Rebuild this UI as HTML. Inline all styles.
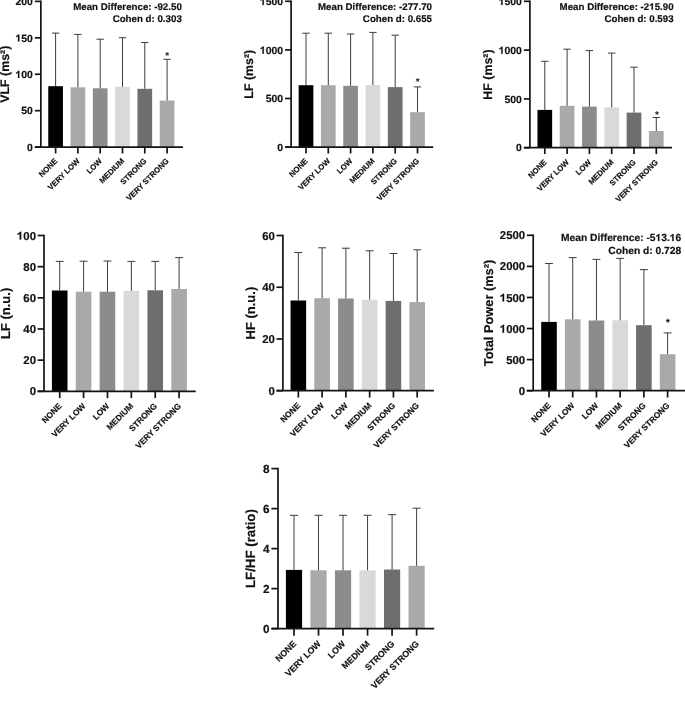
<!DOCTYPE html>
<html><head><meta charset="utf-8"><title>HRV charts</title>
<style>
html,body{margin:0;padding:0;background:#fff;width:685px;height:709px;overflow:hidden}
svg{display:block;filter:grayscale(1)}
text{font-family:"Liberation Sans", sans-serif;fill:#111;stroke:#111;stroke-width:0.18px;text-rendering:geometricPrecision}
</style></head><body>
<svg width="685" height="709" viewBox="0 0 685 709">
<rect width="685" height="709" fill="#fff"/>
<g><rect x="48.25" y="86.2" width="14.7" height="60.9" fill="#000000"/><rect x="70.55" y="87.3" width="14.7" height="59.8" fill="#a9a9a9"/><rect x="92.85" y="88.3" width="14.7" height="58.8" fill="#8c8c8c"/><rect x="115.15" y="86.8" width="14.7" height="60.3" fill="#d9d9d9"/><rect x="137.45" y="88.8" width="14.7" height="58.3" fill="#6e6e6e"/><rect x="159.75" y="100.5" width="14.7" height="46.6" fill="#a9a9a9"/><path d="M55.6 86.2V33.1M51.9 33.1H59.3" stroke="#3c3c3c" stroke-width="1" fill="none"/><path d="M77.9 87.3V34.4M74.2 34.4H81.6" stroke="#3c3c3c" stroke-width="1" fill="none"/><path d="M100.2 88.3V39.2M96.5 39.2H103.9" stroke="#3c3c3c" stroke-width="1" fill="none"/><path d="M122.5 86.8V37.7M118.8 37.7H126.2" stroke="#3c3c3c" stroke-width="1" fill="none"/><path d="M144.8 88.8V42.5M141.1 42.5H148.5" stroke="#3c3c3c" stroke-width="1" fill="none"/><path d="M167.1 100.5V59.3M163.4 59.3H170.8" stroke="#3c3c3c" stroke-width="1" fill="none"/><path d="M34.85 147.1H40.85" stroke="#141414" stroke-width="1.7"/><path d="M34.85 110.67H40.85" stroke="#141414" stroke-width="1.7"/><path d="M34.85 74.25H40.85" stroke="#141414" stroke-width="1.7"/><path d="M34.85 37.83H40.85" stroke="#141414" stroke-width="1.7"/><path d="M34.85 1.4H40.85" stroke="#141414" stroke-width="1.7"/><path d="M40.85 0.55V147.1" stroke="#141414" stroke-width="1.7"/><path d="M34.85 147.1H183" stroke="#141414" stroke-width="1.7"/><path d="M55.6 147.1V153.5" stroke="#141414" stroke-width="1.7"/><path d="M77.9 147.1V153.5" stroke="#141414" stroke-width="1.7"/><path d="M100.2 147.1V153.5" stroke="#141414" stroke-width="1.7"/><path d="M122.5 147.1V153.5" stroke="#141414" stroke-width="1.7"/><path d="M144.8 147.1V153.5" stroke="#141414" stroke-width="1.7"/><path d="M167.1 147.1V153.5" stroke="#141414" stroke-width="1.7"/><text x="32.85" y="150.84" font-size="10.4" text-anchor="end" font-weight="bold">0</text><text x="32.85" y="114.42" font-size="10.4" text-anchor="end" font-weight="bold">50</text><text x="15.5" y="77.99" font-size="10.4" font-weight="bold"> 00</text><path d="M763 0H482V1048C386 958 264 886 119 840V1090C200 1117 286 1164 378 1236C468 1307 530 1365 562 1409H763Z" transform="translate(15.5 77.99) scale(0.005078 -0.005078)" fill="#111" stroke="#111" stroke-width="35.4"/><text x="15.5" y="41.57" font-size="10.4" font-weight="bold"> 50</text><path d="M763 0H482V1048C386 958 264 886 119 840V1090C200 1117 286 1164 378 1236C468 1307 530 1365 562 1409H763Z" transform="translate(15.5 41.57) scale(0.005078 -0.005078)" fill="#111" stroke="#111" stroke-width="35.4"/><text x="32.85" y="5.14" font-size="10.4" text-anchor="end" font-weight="bold">200</text><text transform="translate(57.9 161.5) rotate(-45)" font-size="7.8" text-anchor="end" font-weight="bold">NONE</text><text transform="translate(80.2 161.5) rotate(-45)" font-size="7.8" text-anchor="end" font-weight="bold">VERY LOW</text><text transform="translate(102.5 161.5) rotate(-45)" font-size="7.8" text-anchor="end" font-weight="bold">LOW</text><text transform="translate(124.8 161.5) rotate(-45)" font-size="7.8" text-anchor="end" font-weight="bold">MEDIUM</text><text transform="translate(147.1 161.5) rotate(-45)" font-size="7.8" text-anchor="end" font-weight="bold">STRONG</text><text transform="translate(169.4 161.5) rotate(-45)" font-size="7.8" text-anchor="end" font-weight="bold">VERY STRONG</text><text transform="translate(9.4 74.25) rotate(-90)" font-size="12.4" text-anchor="middle" font-weight="bold">VLF (ms²)</text><text x="167.1" y="58.6" font-size="10" text-anchor="middle" font-weight="bold" style="stroke:none">*</text><text x="181.8" y="9.85" font-size="9.72" text-anchor="end" font-weight="bold">Mean Difference: -92.50</text><text x="181.8" y="21.9" font-size="9.72" text-anchor="end" font-weight="bold">Cohen d: 0.303</text></g>
<g><rect x="298.65" y="85.2" width="14.7" height="61.9" fill="#000000"/><rect x="320.95" y="85.2" width="14.7" height="61.9" fill="#a9a9a9"/><rect x="343.25" y="85.8" width="14.7" height="61.3" fill="#8c8c8c"/><rect x="365.55" y="85" width="14.7" height="62.1" fill="#d9d9d9"/><rect x="387.85" y="87.1" width="14.7" height="60" fill="#6e6e6e"/><rect x="410.15" y="112.2" width="14.7" height="34.9" fill="#a9a9a9"/><path d="M306 85.2V33.2M302.3 33.2H309.7" stroke="#3c3c3c" stroke-width="1" fill="none"/><path d="M328.3 85.2V33.2M324.6 33.2H332" stroke="#3c3c3c" stroke-width="1" fill="none"/><path d="M350.6 85.8V34M346.9 34H354.3" stroke="#3c3c3c" stroke-width="1" fill="none"/><path d="M372.9 85V32.4M369.2 32.4H376.6" stroke="#3c3c3c" stroke-width="1" fill="none"/><path d="M395.2 87.1V35.2M391.5 35.2H398.9" stroke="#3c3c3c" stroke-width="1" fill="none"/><path d="M417.5 112.2V86.9M413.8 86.9H421.2" stroke="#3c3c3c" stroke-width="1" fill="none"/><path d="M285.1 147.1H291.1" stroke="#141414" stroke-width="1.7"/><path d="M285.1 98.5H291.1" stroke="#141414" stroke-width="1.7"/><path d="M285.1 49.9H291.1" stroke="#141414" stroke-width="1.7"/><path d="M285.1 1.3H291.1" stroke="#141414" stroke-width="1.7"/><path d="M291.1 0.45V147.1" stroke="#141414" stroke-width="1.7"/><path d="M285.1 147.1H433.2" stroke="#141414" stroke-width="1.7"/><path d="M306 147.1V153.5" stroke="#141414" stroke-width="1.7"/><path d="M328.3 147.1V153.5" stroke="#141414" stroke-width="1.7"/><path d="M350.6 147.1V153.5" stroke="#141414" stroke-width="1.7"/><path d="M372.9 147.1V153.5" stroke="#141414" stroke-width="1.7"/><path d="M395.2 147.1V153.5" stroke="#141414" stroke-width="1.7"/><path d="M417.5 147.1V153.5" stroke="#141414" stroke-width="1.7"/><text x="283.1" y="150.84" font-size="10.4" text-anchor="end" font-weight="bold">0</text><text x="283.1" y="102.24" font-size="10.4" text-anchor="end" font-weight="bold">500</text><text x="259.96" y="53.64" font-size="10.4" font-weight="bold"> 000</text><path d="M763 0H482V1048C386 958 264 886 119 840V1090C200 1117 286 1164 378 1236C468 1307 530 1365 562 1409H763Z" transform="translate(259.96 53.64) scale(0.005078 -0.005078)" fill="#111" stroke="#111" stroke-width="35.4"/><text x="259.96" y="5.04" font-size="10.4" font-weight="bold"> 500</text><path d="M763 0H482V1048C386 958 264 886 119 840V1090C200 1117 286 1164 378 1236C468 1307 530 1365 562 1409H763Z" transform="translate(259.96 5.04) scale(0.005078 -0.005078)" fill="#111" stroke="#111" stroke-width="35.4"/><text transform="translate(308.3 161.5) rotate(-45)" font-size="7.8" text-anchor="end" font-weight="bold">NONE</text><text transform="translate(330.6 161.5) rotate(-45)" font-size="7.8" text-anchor="end" font-weight="bold">VERY LOW</text><text transform="translate(352.9 161.5) rotate(-45)" font-size="7.8" text-anchor="end" font-weight="bold">LOW</text><text transform="translate(375.2 161.5) rotate(-45)" font-size="7.8" text-anchor="end" font-weight="bold">MEDIUM</text><text transform="translate(397.5 161.5) rotate(-45)" font-size="7.8" text-anchor="end" font-weight="bold">STRONG</text><text transform="translate(419.8 161.5) rotate(-45)" font-size="7.8" text-anchor="end" font-weight="bold">VERY STRONG</text><text transform="translate(252.8 74.2) rotate(-90)" font-size="12.4" text-anchor="middle" font-weight="bold">LF (ms²)</text><text x="417.7" y="85.2" font-size="10" text-anchor="middle" font-weight="bold" style="stroke:none">*</text><text x="432" y="9.85" font-size="9.72" text-anchor="end" font-weight="bold">Mean Difference: -277.70</text><text x="432" y="21.9" font-size="9.72" text-anchor="end" font-weight="bold">Cohen d: 0.655</text></g>
<g><rect x="537.45" y="109.9" width="14.7" height="37.8" fill="#000000"/><rect x="559.75" y="105.8" width="14.7" height="41.9" fill="#a9a9a9"/><rect x="582.05" y="106.6" width="14.7" height="41.1" fill="#8c8c8c"/><rect x="604.35" y="107.4" width="14.7" height="40.3" fill="#d9d9d9"/><rect x="626.65" y="112.6" width="14.7" height="35.1" fill="#6e6e6e"/><rect x="648.95" y="131" width="14.7" height="16.7" fill="#a9a9a9"/><path d="M544.8 109.9V61.3M541.1 61.3H548.5" stroke="#3c3c3c" stroke-width="1" fill="none"/><path d="M567.1 105.8V49.2M563.4 49.2H570.8" stroke="#3c3c3c" stroke-width="1" fill="none"/><path d="M589.4 106.6V50.6M585.7 50.6H593.1" stroke="#3c3c3c" stroke-width="1" fill="none"/><path d="M611.7 107.4V53.1M608 53.1H615.4" stroke="#3c3c3c" stroke-width="1" fill="none"/><path d="M634 112.6V67.2M630.3 67.2H637.7" stroke="#3c3c3c" stroke-width="1" fill="none"/><path d="M656.3 131V117.5M652.6 117.5H660" stroke="#3c3c3c" stroke-width="1" fill="none"/><path d="M523.9 147.7H529.9" stroke="#141414" stroke-width="1.7"/><path d="M523.9 98.9H529.9" stroke="#141414" stroke-width="1.7"/><path d="M523.9 50.1H529.9" stroke="#141414" stroke-width="1.7"/><path d="M523.9 1.3H529.9" stroke="#141414" stroke-width="1.7"/><path d="M529.9 0.45V147.7" stroke="#141414" stroke-width="1.7"/><path d="M523.9 147.7H672" stroke="#141414" stroke-width="1.7"/><path d="M544.8 147.7V154.1" stroke="#141414" stroke-width="1.7"/><path d="M567.1 147.7V154.1" stroke="#141414" stroke-width="1.7"/><path d="M589.4 147.7V154.1" stroke="#141414" stroke-width="1.7"/><path d="M611.7 147.7V154.1" stroke="#141414" stroke-width="1.7"/><path d="M634 147.7V154.1" stroke="#141414" stroke-width="1.7"/><path d="M656.3 147.7V154.1" stroke="#141414" stroke-width="1.7"/><text x="521.9" y="151.44" font-size="10.4" text-anchor="end" font-weight="bold">0</text><text x="521.9" y="102.64" font-size="10.4" text-anchor="end" font-weight="bold">500</text><text x="498.76" y="53.84" font-size="10.4" font-weight="bold"> 000</text><path d="M763 0H482V1048C386 958 264 886 119 840V1090C200 1117 286 1164 378 1236C468 1307 530 1365 562 1409H763Z" transform="translate(498.76 53.84) scale(0.005078 -0.005078)" fill="#111" stroke="#111" stroke-width="35.4"/><text x="498.76" y="5.04" font-size="10.4" font-weight="bold"> 500</text><path d="M763 0H482V1048C386 958 264 886 119 840V1090C200 1117 286 1164 378 1236C468 1307 530 1365 562 1409H763Z" transform="translate(498.76 5.04) scale(0.005078 -0.005078)" fill="#111" stroke="#111" stroke-width="35.4"/><text transform="translate(547.1 162.7) rotate(-45)" font-size="7.8" text-anchor="end" font-weight="bold">NONE</text><text transform="translate(569.4 162.7) rotate(-45)" font-size="7.8" text-anchor="end" font-weight="bold">VERY LOW</text><text transform="translate(591.7 162.7) rotate(-45)" font-size="7.8" text-anchor="end" font-weight="bold">LOW</text><text transform="translate(614 162.7) rotate(-45)" font-size="7.8" text-anchor="end" font-weight="bold">MEDIUM</text><text transform="translate(636.3 162.7) rotate(-45)" font-size="7.8" text-anchor="end" font-weight="bold">STRONG</text><text transform="translate(658.6 162.7) rotate(-45)" font-size="7.8" text-anchor="end" font-weight="bold">VERY STRONG</text><text transform="translate(491.5 74.5) rotate(-90)" font-size="12.4" text-anchor="middle" font-weight="bold">HF (ms²)</text><text x="656.9" y="117.6" font-size="10" text-anchor="middle" font-weight="bold" style="stroke:none">*</text><text x="559.61" y="9.85" font-size="9.72" font-weight="bold">Mean Difference: -2 5.90</text><path d="M763 0H482V1048C386 958 264 886 119 840V1090C200 1117 286 1164 378 1236C468 1307 530 1365 562 1409H763Z" transform="translate(649.28 9.85) scale(0.004746 -0.004746)" fill="#111" stroke="#111" stroke-width="37.9"/><text x="673.6" y="21.9" font-size="9.72" text-anchor="end" font-weight="bold">Cohen d: 0.593</text></g>
<g><rect x="51.9" y="290.5" width="15.6" height="100.8" fill="#000000"/><rect x="75.78" y="291.7" width="15.6" height="99.6" fill="#a9a9a9"/><rect x="99.66" y="291.7" width="15.6" height="99.6" fill="#8c8c8c"/><rect x="123.54" y="290.9" width="15.6" height="100.4" fill="#d9d9d9"/><rect x="147.42" y="290.3" width="15.6" height="101" fill="#6e6e6e"/><rect x="171.3" y="289" width="15.6" height="102.3" fill="#a9a9a9"/><path d="M59.7 290.5V261.4M55.75 261.4H63.65" stroke="#3c3c3c" stroke-width="1" fill="none"/><path d="M83.58 291.7V261.2M79.63 261.2H87.53" stroke="#3c3c3c" stroke-width="1" fill="none"/><path d="M107.46 291.7V261M103.51 261H111.41" stroke="#3c3c3c" stroke-width="1" fill="none"/><path d="M131.34 290.9V261.4M127.39 261.4H135.29" stroke="#3c3c3c" stroke-width="1" fill="none"/><path d="M155.22 290.3V261.4M151.27 261.4H159.17" stroke="#3c3c3c" stroke-width="1" fill="none"/><path d="M179.1 289V257.6M175.15 257.6H183.05" stroke="#3c3c3c" stroke-width="1" fill="none"/><path d="M37.59 391.3H44" stroke="#141414" stroke-width="1.7"/><path d="M37.59 360.14H44" stroke="#141414" stroke-width="1.7"/><path d="M37.59 328.98H44" stroke="#141414" stroke-width="1.7"/><path d="M37.59 297.82H44" stroke="#141414" stroke-width="1.7"/><path d="M37.59 266.66H44" stroke="#141414" stroke-width="1.7"/><path d="M37.59 235.5H44" stroke="#141414" stroke-width="1.7"/><path d="M44 234.65V391.3" stroke="#141414" stroke-width="1.7"/><path d="M37.59 391.3H195.7" stroke="#141414" stroke-width="1.7"/><path d="M59.7 391.3V398.14" stroke="#141414" stroke-width="1.7"/><path d="M83.58 391.3V398.14" stroke="#141414" stroke-width="1.7"/><path d="M107.46 391.3V398.14" stroke="#141414" stroke-width="1.7"/><path d="M131.34 391.3V398.14" stroke="#141414" stroke-width="1.7"/><path d="M155.22 391.3V398.14" stroke="#141414" stroke-width="1.7"/><path d="M179.1 391.3V398.14" stroke="#141414" stroke-width="1.7"/><text x="36" y="395.4" font-size="11.4" text-anchor="end" font-weight="bold">0</text><text x="36" y="364.24" font-size="11.4" text-anchor="end" font-weight="bold">20</text><text x="36" y="333.08" font-size="11.4" text-anchor="end" font-weight="bold">40</text><text x="36" y="301.92" font-size="11.4" text-anchor="end" font-weight="bold">60</text><text x="36" y="270.76" font-size="11.4" text-anchor="end" font-weight="bold">80</text><text x="16.98" y="239.6" font-size="11.4" font-weight="bold"> 00</text><path d="M763 0H482V1048C386 958 264 886 119 840V1090C200 1117 286 1164 378 1236C468 1307 530 1365 562 1409H763Z" transform="translate(16.98 239.6) scale(0.005566 -0.005566)" fill="#111" stroke="#111" stroke-width="32.3"/><text transform="translate(62.16 406.68) rotate(-45)" font-size="8.33" text-anchor="end" font-weight="bold">NONE</text><text transform="translate(86.04 406.68) rotate(-45)" font-size="8.33" text-anchor="end" font-weight="bold">VERY LOW</text><text transform="translate(109.92 406.68) rotate(-45)" font-size="8.33" text-anchor="end" font-weight="bold">LOW</text><text transform="translate(133.8 406.68) rotate(-45)" font-size="8.33" text-anchor="end" font-weight="bold">MEDIUM</text><text transform="translate(157.68 406.68) rotate(-45)" font-size="8.33" text-anchor="end" font-weight="bold">STRONG</text><text transform="translate(181.56 406.68) rotate(-45)" font-size="8.33" text-anchor="end" font-weight="bold">VERY STRONG</text><text transform="translate(9.9 313.4) rotate(-90)" font-size="13" text-anchor="middle" font-weight="bold">LF (n.u.)</text></g>
<g><rect x="290.55" y="300.5" width="15.6" height="90.2" fill="#000000"/><rect x="314.32" y="298.2" width="15.6" height="92.5" fill="#a9a9a9"/><rect x="338.09" y="298.5" width="15.6" height="92.2" fill="#8c8c8c"/><rect x="361.86" y="299.7" width="15.6" height="91" fill="#d9d9d9"/><rect x="385.63" y="300.9" width="15.6" height="89.8" fill="#6e6e6e"/><rect x="409.4" y="302.1" width="15.6" height="88.6" fill="#a9a9a9"/><path d="M298.35 300.5V252.5M294.4 252.5H302.3" stroke="#3c3c3c" stroke-width="1" fill="none"/><path d="M322.12 298.2V247.8M318.17 247.8H326.07" stroke="#3c3c3c" stroke-width="1" fill="none"/><path d="M345.89 298.5V248.2M341.94 248.2H349.84" stroke="#3c3c3c" stroke-width="1" fill="none"/><path d="M369.66 299.7V250.8M365.71 250.8H373.61" stroke="#3c3c3c" stroke-width="1" fill="none"/><path d="M393.43 300.9V253.5M389.48 253.5H397.38" stroke="#3c3c3c" stroke-width="1" fill="none"/><path d="M417.2 302.1V249.8M413.25 249.8H421.15" stroke="#3c3c3c" stroke-width="1" fill="none"/><path d="M276.49 390.7H282.9" stroke="#141414" stroke-width="1.7"/><path d="M276.49 338.97H282.9" stroke="#141414" stroke-width="1.7"/><path d="M276.49 287.23H282.9" stroke="#141414" stroke-width="1.7"/><path d="M276.49 235.5H282.9" stroke="#141414" stroke-width="1.7"/><path d="M282.9 234.65V390.7" stroke="#141414" stroke-width="1.7"/><path d="M276.49 390.7H433.9" stroke="#141414" stroke-width="1.7"/><path d="M298.35 390.7V397.54" stroke="#141414" stroke-width="1.7"/><path d="M322.12 390.7V397.54" stroke="#141414" stroke-width="1.7"/><path d="M345.89 390.7V397.54" stroke="#141414" stroke-width="1.7"/><path d="M369.66 390.7V397.54" stroke="#141414" stroke-width="1.7"/><path d="M393.43 390.7V397.54" stroke="#141414" stroke-width="1.7"/><path d="M417.2 390.7V397.54" stroke="#141414" stroke-width="1.7"/><text x="274.9" y="394.8" font-size="11.4" text-anchor="end" font-weight="bold">0</text><text x="274.9" y="343.07" font-size="11.4" text-anchor="end" font-weight="bold">20</text><text x="274.9" y="291.34" font-size="11.4" text-anchor="end" font-weight="bold">40</text><text x="274.9" y="239.6" font-size="11.4" text-anchor="end" font-weight="bold">60</text><text transform="translate(300.81 406.08) rotate(-45)" font-size="8.33" text-anchor="end" font-weight="bold">NONE</text><text transform="translate(324.58 406.08) rotate(-45)" font-size="8.33" text-anchor="end" font-weight="bold">VERY LOW</text><text transform="translate(348.35 406.08) rotate(-45)" font-size="8.33" text-anchor="end" font-weight="bold">LOW</text><text transform="translate(372.12 406.08) rotate(-45)" font-size="8.33" text-anchor="end" font-weight="bold">MEDIUM</text><text transform="translate(395.89 406.08) rotate(-45)" font-size="8.33" text-anchor="end" font-weight="bold">STRONG</text><text transform="translate(419.66 406.08) rotate(-45)" font-size="8.33" text-anchor="end" font-weight="bold">VERY STRONG</text><text transform="translate(255 313.1) rotate(-90)" font-size="13" text-anchor="middle" font-weight="bold">HF (n.u.)</text></g>
<g><rect x="541.2" y="321.9" width="15.6" height="68.8" fill="#000000"/><rect x="564.92" y="319.3" width="15.6" height="71.4" fill="#a9a9a9"/><rect x="588.64" y="320.5" width="15.6" height="70.2" fill="#8c8c8c"/><rect x="612.36" y="320.3" width="15.6" height="70.4" fill="#d9d9d9"/><rect x="636.08" y="325.2" width="15.6" height="65.5" fill="#6e6e6e"/><rect x="659.8" y="354.2" width="15.6" height="36.5" fill="#a9a9a9"/><path d="M549 321.9V263.5M545.05 263.5H552.95" stroke="#3c3c3c" stroke-width="1" fill="none"/><path d="M572.72 319.3V257.6M568.77 257.6H576.67" stroke="#3c3c3c" stroke-width="1" fill="none"/><path d="M596.44 320.5V259.4M592.49 259.4H600.39" stroke="#3c3c3c" stroke-width="1" fill="none"/><path d="M620.16 320.3V258.4M616.21 258.4H624.11" stroke="#3c3c3c" stroke-width="1" fill="none"/><path d="M643.88 325.2V269.6M639.93 269.6H647.83" stroke="#3c3c3c" stroke-width="1" fill="none"/><path d="M667.6 354.2V332.9M663.65 332.9H671.55" stroke="#3c3c3c" stroke-width="1" fill="none"/><path d="M526.79 390.7H533.2" stroke="#141414" stroke-width="1.7"/><path d="M526.79 359.62H533.2" stroke="#141414" stroke-width="1.7"/><path d="M526.79 328.54H533.2" stroke="#141414" stroke-width="1.7"/><path d="M526.79 297.46H533.2" stroke="#141414" stroke-width="1.7"/><path d="M526.79 266.38H533.2" stroke="#141414" stroke-width="1.7"/><path d="M526.79 235.3H533.2" stroke="#141414" stroke-width="1.7"/><path d="M533.2 234.45V390.7" stroke="#141414" stroke-width="1.7"/><path d="M526.79 390.7H686" stroke="#141414" stroke-width="1.7"/><path d="M549 390.7V397.54" stroke="#141414" stroke-width="1.7"/><path d="M572.72 390.7V397.54" stroke="#141414" stroke-width="1.7"/><path d="M596.44 390.7V397.54" stroke="#141414" stroke-width="1.7"/><path d="M620.16 390.7V397.54" stroke="#141414" stroke-width="1.7"/><path d="M643.88 390.7V397.54" stroke="#141414" stroke-width="1.7"/><path d="M667.6 390.7V397.54" stroke="#141414" stroke-width="1.7"/><text x="525.2" y="394.8" font-size="11.4" text-anchor="end" font-weight="bold">0</text><text x="525.2" y="363.72" font-size="11.4" text-anchor="end" font-weight="bold">500</text><text x="499.84" y="332.64" font-size="11.4" font-weight="bold"> 000</text><path d="M763 0H482V1048C386 958 264 886 119 840V1090C200 1117 286 1164 378 1236C468 1307 530 1365 562 1409H763Z" transform="translate(499.84 332.64) scale(0.005566 -0.005566)" fill="#111" stroke="#111" stroke-width="32.3"/><text x="499.84" y="301.56" font-size="11.4" font-weight="bold"> 500</text><path d="M763 0H482V1048C386 958 264 886 119 840V1090C200 1117 286 1164 378 1236C468 1307 530 1365 562 1409H763Z" transform="translate(499.84 301.56) scale(0.005566 -0.005566)" fill="#111" stroke="#111" stroke-width="32.3"/><text x="525.2" y="270.48" font-size="11.4" text-anchor="end" font-weight="bold">2000</text><text x="525.2" y="239.4" font-size="11.4" text-anchor="end" font-weight="bold">2500</text><text transform="translate(551.46 406.08) rotate(-45)" font-size="8.33" text-anchor="end" font-weight="bold">NONE</text><text transform="translate(575.18 406.08) rotate(-45)" font-size="8.33" text-anchor="end" font-weight="bold">VERY LOW</text><text transform="translate(598.9 406.08) rotate(-45)" font-size="8.33" text-anchor="end" font-weight="bold">LOW</text><text transform="translate(622.62 406.08) rotate(-45)" font-size="8.33" text-anchor="end" font-weight="bold">MEDIUM</text><text transform="translate(646.34 406.08) rotate(-45)" font-size="8.33" text-anchor="end" font-weight="bold">STRONG</text><text transform="translate(670.06 406.08) rotate(-45)" font-size="8.33" text-anchor="end" font-weight="bold">VERY STRONG</text><text transform="translate(493.3 313) rotate(-90)" font-size="12.8" text-anchor="middle" font-weight="bold">Total Power (ms²)</text><text x="667.9" y="325.59" font-size="10.68" text-anchor="middle" font-weight="bold" style="stroke:none">*</text><text x="561" y="241.1" font-size="10.25" font-weight="bold">Mean Difference: -5 3. 6</text><path d="M763 0H482V1048C386 958 264 886 119 840V1090C200 1117 286 1164 378 1236C468 1307 530 1365 562 1409H763Z" transform="translate(655.55 241.1) scale(0.005005 -0.005005)" fill="#111" stroke="#111" stroke-width="36.0"/><path d="M763 0H482V1048C386 958 264 886 119 840V1090C200 1117 286 1164 378 1236C468 1307 530 1365 562 1409H763Z" transform="translate(669.8 241.1) scale(0.005005 -0.005005)" fill="#111" stroke="#111" stroke-width="36.0"/><text x="681.2" y="253.9" font-size="10.25" text-anchor="end" font-weight="bold">Cohen d: 0.728</text></g>
<g><rect x="285.9" y="569.9" width="16.2" height="58.7" fill="#000000"/><rect x="310.42" y="570.3" width="16.2" height="58.3" fill="#a9a9a9"/><rect x="334.94" y="570.3" width="16.2" height="58.3" fill="#8c8c8c"/><rect x="359.46" y="570.3" width="16.2" height="58.3" fill="#d9d9d9"/><rect x="383.98" y="569.5" width="16.2" height="59.1" fill="#6e6e6e"/><rect x="408.5" y="565.8" width="16.2" height="62.8" fill="#a9a9a9"/><path d="M294 569.9V515.3M289.93 515.3H298.07" stroke="#3c3c3c" stroke-width="1" fill="none"/><path d="M318.52 570.3V515.3M314.45 515.3H322.59" stroke="#3c3c3c" stroke-width="1" fill="none"/><path d="M343.04 570.3V515.3M338.97 515.3H347.11" stroke="#3c3c3c" stroke-width="1" fill="none"/><path d="M367.56 570.3V515.3M363.49 515.3H371.63" stroke="#3c3c3c" stroke-width="1" fill="none"/><path d="M392.08 569.5V514.7M388.01 514.7H396.15" stroke="#3c3c3c" stroke-width="1" fill="none"/><path d="M416.6 565.8V508.2M412.53 508.2H420.67" stroke="#3c3c3c" stroke-width="1" fill="none"/><path d="M271.4 628.6H278" stroke="#141414" stroke-width="1.7"/><path d="M271.4 588.6H278" stroke="#141414" stroke-width="1.7"/><path d="M271.4 548.6H278" stroke="#141414" stroke-width="1.7"/><path d="M271.4 508.6H278" stroke="#141414" stroke-width="1.7"/><path d="M271.4 468.6H278" stroke="#141414" stroke-width="1.7"/><path d="M278 467.75V628.6" stroke="#141414" stroke-width="1.7"/><path d="M271.4 628.6H434.2" stroke="#141414" stroke-width="1.7"/><path d="M294 628.6V635.64" stroke="#141414" stroke-width="1.7"/><path d="M318.52 628.6V635.64" stroke="#141414" stroke-width="1.7"/><path d="M343.04 628.6V635.64" stroke="#141414" stroke-width="1.7"/><path d="M367.56 628.6V635.64" stroke="#141414" stroke-width="1.7"/><path d="M392.08 628.6V635.64" stroke="#141414" stroke-width="1.7"/><path d="M416.6 628.6V635.64" stroke="#141414" stroke-width="1.7"/><text x="269.6" y="632.81" font-size="11.7" text-anchor="end" font-weight="bold">0</text><text x="269.6" y="592.81" font-size="11.7" text-anchor="end" font-weight="bold">2</text><text x="269.6" y="552.81" font-size="11.7" text-anchor="end" font-weight="bold">4</text><text x="269.6" y="512.81" font-size="11.7" text-anchor="end" font-weight="bold">6</text><text x="269.6" y="472.81" font-size="11.7" text-anchor="end" font-weight="bold">8</text><text transform="translate(296.9 644.44) rotate(-45)" font-size="8.75" text-anchor="end" font-weight="bold">NONE</text><text transform="translate(321.42 644.44) rotate(-45)" font-size="8.75" text-anchor="end" font-weight="bold">VERY LOW</text><text transform="translate(345.94 644.44) rotate(-45)" font-size="8.75" text-anchor="end" font-weight="bold">LOW</text><text transform="translate(370.46 644.44) rotate(-45)" font-size="8.75" text-anchor="end" font-weight="bold">MEDIUM</text><text transform="translate(394.98 644.44) rotate(-45)" font-size="8.75" text-anchor="end" font-weight="bold">STRONG</text><text transform="translate(419.5 644.44) rotate(-45)" font-size="8.75" text-anchor="end" font-weight="bold">VERY STRONG</text><text transform="translate(255.2 548.6) rotate(-90)" font-size="13.3" text-anchor="middle" font-weight="bold">LF/HF (ratio)</text></g>
</svg>
</body></html>
